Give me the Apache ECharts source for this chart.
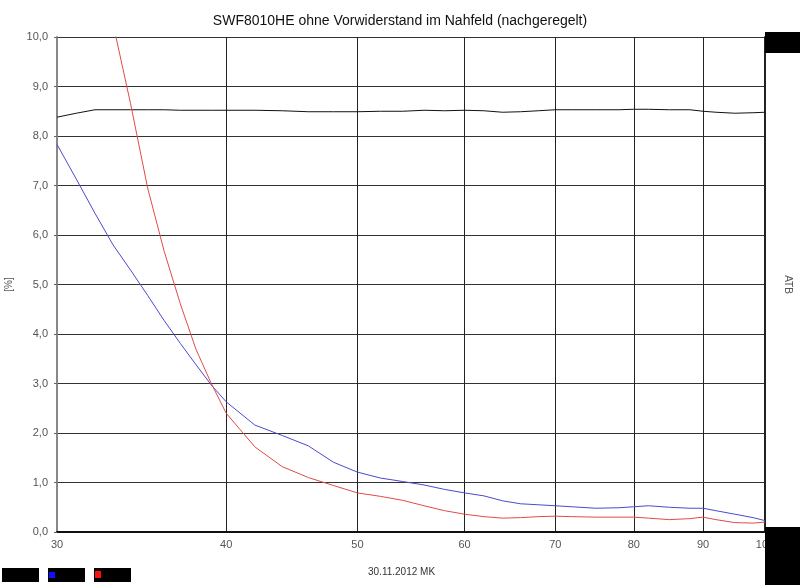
<!DOCTYPE html>
<html>
<head>
<meta charset="utf-8">
<script src="https://cdn.jsdelivr.net/npm/echarts@6/dist/echarts.min.js"></script>
<style>html,body{margin:0;padding:0;background:#fff;}#c{width:800px;height:585px;}</style>
</head>
<body>
<div id="c"></div>
<script>
const titleText = 'SWF8010HE ohne Vorwiderstand im Nahfeld (nachgeregelt)';
const footerText = '30.11.2012 MK';
const xTicks = [30, 40, 50, 60, 70, 80, 90, 100];
const freqs = [30,31,32,33,34,35,36,37,38,39,40,42,44,46,48,50,52,54,56,58,60,62,64,66,68,70,72,75,78,80,82,85,88,90,92,95,98,100];
const blackVals = [8.38,8.46,8.53,8.53,8.53,8.53,8.53,8.52,8.52,8.52,8.52,8.52,8.51,8.49,8.49,8.49,8.50,8.50,8.52,8.51,8.52,8.51,8.48,8.49,8.51,8.53,8.53,8.53,8.53,8.54,8.54,8.53,8.53,8.50,8.48,8.46,8.47,8.48];
const blueVals = [7.83,7.13,6.44,5.80,5.29,4.78,4.27,3.81,3.38,2.97,2.63,2.16,1.95,1.74,1.41,1.21,1.09,1.02,0.95,0.86,0.79,0.73,0.63,0.57,0.55,0.53,0.51,0.48,0.49,0.51,0.53,0.50,0.48,0.48,0.43,0.36,0.29,0.23];
const redFreqs = [32,33,34,35,36,37,38,39,40,42,44,46,48,50,52,54,56,58,60,62,64,66,68,70,72,75,78,80,82,85,88,90,92,95,98,100];
const redVals = [12.2,10.27,8.65,6.95,5.67,4.61,3.69,3.00,2.40,1.72,1.32,1.10,0.94,0.79,0.72,0.64,0.53,0.43,0.36,0.31,0.28,0.29,0.31,0.32,0.31,0.30,0.30,0.30,0.28,0.25,0.27,0.30,0.25,0.19,0.18,0.20];

function pairs(xs, ys){ return xs.map((x,i)=>[x, ys[i]]); }

const chart = echarts.init(document.getElementById('c'), null, {renderer:'canvas'});
const font = 'Liberation Sans, Arial, sans-serif';
chart.setOption({
  animation:false,
  backgroundColor:'#fff',
  title:{text:titleText, left:'center', top:9, textStyle:{fontFamily:font, fontSize:14, fontWeight:'normal', color:'#111'}},
  grid:{left:57, right:35, top:37, bottom:53, containLabel:false, outerBoundsMode:'none'},
  xAxis:{
    type:'log', logBase:10, min:30, max:100,
    axisLine:{show:true, onZero:false, lineStyle:{color:'#111', width:2}},
    axisTick:{show:false, customValues:xTicks},
    splitLine:{show:true, lineStyle:{color:'#222', width:1}},
    minorSplitLine:{show:false},
    axisLabel:{customValues:xTicks, fontFamily:font, fontSize:11, color:'#555', margin:7, formatter:v=>String(Math.round(v))}
  },
  yAxis:[{
    type:'value', min:0, max:10, interval:1,
    name:'[%]', nameLocation:'middle', nameGap:43, nameRotate:90,
    nameTextStyle:{fontFamily:font, fontSize:10, color:'#555'},
    axisLine:{show:true, lineStyle:{color:'#888', width:2}},
    axisTick:{show:true, length:3, lineStyle:{color:'#666'}},
    splitLine:{show:true, lineStyle:{color:'#333', width:1}},
    axisLabel:{fontFamily:font, fontSize:11, color:'#555', margin:9, formatter:v=>v.toFixed(1).replace('.',',')}
  },{
    type:'value', min:0, max:10, interval:1, position:'right',
    name:'ATB', nameLocation:'middle', nameGap:18, nameRotate:-90,
    nameTextStyle:{fontFamily:font, fontSize:10, color:'#555'},
    axisLine:{show:true, lineStyle:{color:'#222', width:2}},
    axisTick:{show:false}, splitLine:{show:false}, axisLabel:{show:false}
  }],
  series:[
    {type:'line', data:pairs(freqs, blackVals), showSymbol:false, symbol:'none', clip:true, lineStyle:{color:'#111', width:1}},
    {type:'line', data:pairs(freqs, blueVals), showSymbol:false, symbol:'none', clip:true, lineStyle:{color:'#4a4ad0', width:1}},
    {type:'line', data:pairs(redFreqs, redVals), showSymbol:false, symbol:'none', clip:true, lineStyle:{color:'#e04a4a', width:1}}
  ],
  graphic:[
    {type:'rect', z:100, shape:{x:765, y:32, width:35, height:21}, style:{fill:'#000'}},
    {type:'rect', z:100, shape:{x:765, y:527, width:35, height:58}, style:{fill:'#000'}},
    {type:'rect', z:100, shape:{x:2, y:568, width:37, height:14}, style:{fill:'#000'}},
    {type:'rect', z:100, shape:{x:48, y:568, width:37, height:14}, style:{fill:'#000'}},
    {type:'rect', z:101, shape:{x:49, y:572, width:6, height:6}, style:{fill:'#1010ff'}},
    {type:'rect', z:100, shape:{x:94, y:568, width:37, height:14}, style:{fill:'#000'}},
    {type:'rect', z:101, shape:{x:95, y:571, width:6, height:7}, style:{fill:'#ff1010'}},
    {type:'text', z:100, left:368, top:567, style:{text:footerText, font:'10px '+font, fill:'#333'}}
  ]
});
</script>
</body>
</html>
